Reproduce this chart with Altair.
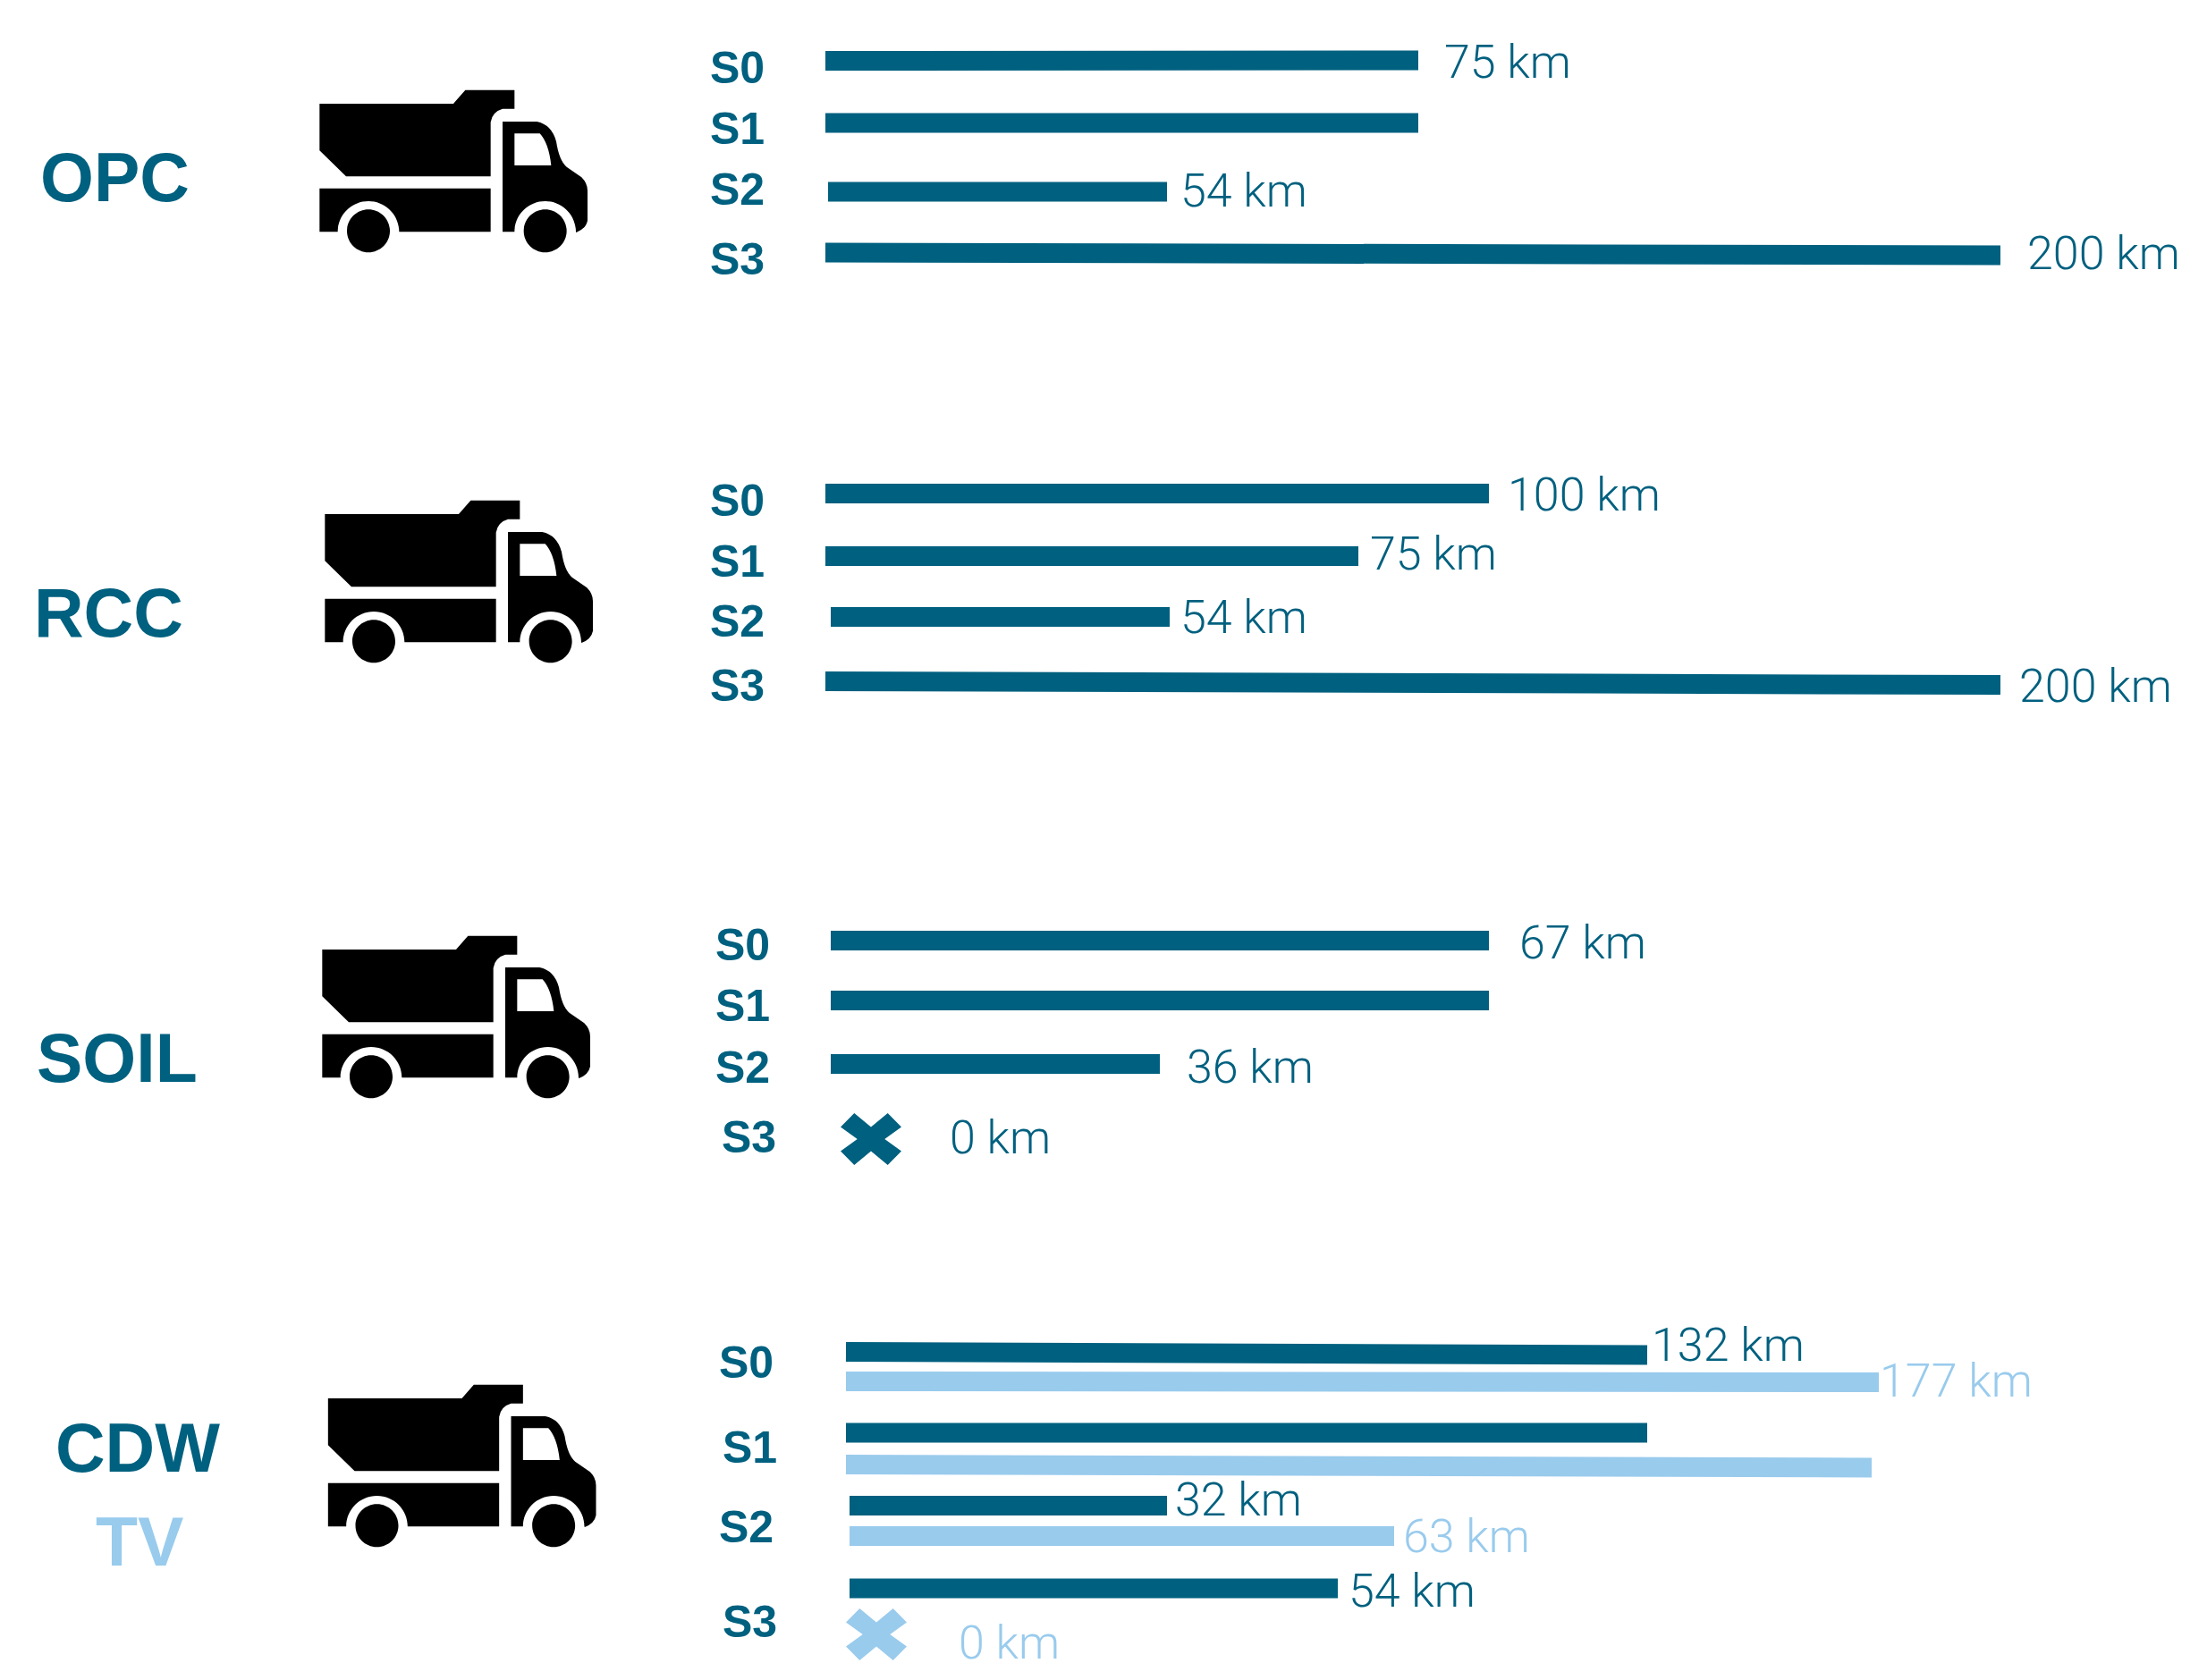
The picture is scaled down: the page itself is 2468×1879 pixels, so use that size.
import altair as alt
import pandas as pd

DARK = "#00607F"
LIGHT = "#99CBED"

# ---- values -----------------------------------------------------------
series = ["dark"] * 4 + ["dark"] * 4 + ["dark"] * 3 + ["dark", "light", "dark", "light", "dark", "light", "dark"]
bar_start = [923, 923, 926, 923, 923, 923, 929, 923, 929, 929, 929,
             946, 946, 946, 946, 950, 950, 950]
bar_end = [1586, 1586, 1305, 2237, 1665, 1519, 1308, 2237, 1665, 1665, 1297,
           1842, 2101, 1842, 2093, 1305, 1559, 1496]
bar_y_left = [68, 137.5, 214.5, 282.5, 552, 622, 690, 762, 1052, 1119, 1190,
              1512, 1545, 1602.5, 1638, 1684, 1718, 1776.5]
bar_y_right = [67.5, 137.5, 214.5, 285.5, 552, 622, 690, 766, 1052, 1119, 1190,
               1515.5, 1546, 1602.5, 1641.5, 1684, 1718, 1776.5]

km_labels = ["75 km", "54 km", "200 km", "100 km", "75 km", "54 km", "200 km",
             "67 km", "36 km", "0 km", "132 km", "177 km", "32 km", "63 km", "54 km", "0 km"]
km_series = ["dark"] * 10 + ["dark", "light", "dark", "light", "dark", "light"]
km_x = [1615, 1320, 2267, 1686, 1532, 1320, 2258, 1699, 1327, 1062, 1847, 2102, 1314, 1569, 1508, 1072]
km_y = [71, 215, 285, 555, 621, 692, 769, 1056, 1195, 1274, 1506, 1546, 1679, 1720, 1781, 1839]

s_labels = ["S0", "S1", "S2", "S3"] * 4
s_x = [794] * 4 + [794] * 4 + [800, 800, 800, 807] + [804, 808, 804, 808]
s_y = [77.5, 146, 214, 292, 562, 629.5, 697, 769, 1059, 1127, 1196, 1274, 1525.5, 1621, 1709.5, 1815.5]

group_labels = ["OPC", "RCC", "SOIL", "CDW", "TV"]
group_series = ["dark", "dark", "dark", "dark", "light"]
group_x = [45, 38, 41, 62, 107]
group_y = [202, 689, 1187, 1623, 1728]

truck_x = [507, 513, 510, 516.5]
truck_y = [192, 651, 1138, 1640]

cross_series = ["dark", "light"]
cross_x = [974, 980]
cross_y = [1274, 1828]


# ---- glyphs ------------------------------------------------------------
def _u(x, y):
    return f"{(x - 500) / 450:.4f},{(y - 306) / 450:.4f}"


def _arch(cx, cy, r):
    # over-the-top half circle from the right foot to the left foot
    k = 0.5523 * r
    return (f"L{_u(cx + r, cy)}C{_u(cx + r, cy - k)} {_u(cx + k, cy - r)} {_u(cx, cy - r)}"
            f"C{_u(cx - k, cy - r)} {_u(cx - r, cy - k)} {_u(cx - r, cy)}")


def _disc(cx, cy, r):
    k = 0.5523 * r
    return (f"M{_u(cx + r, cy)}C{_u(cx + r, cy + k)} {_u(cx + k, cy + r)} {_u(cx, cy + r)}"
            f"C{_u(cx - k, cy + r)} {_u(cx - r, cy + k)} {_u(cx - r, cy)}"
            f"C{_u(cx - r, cy - k)} {_u(cx - k, cy - r)} {_u(cx, cy - r)}"
            f"C{_u(cx + k, cy - r)} {_u(cx + r, cy - k)} {_u(cx + r, cy)}Z")


TRUCK = (
    f"M{_u(51, 78)}L{_u(500, 78)}L{_u(540, 32)}L{_u(705, 32)}L{_u(705, 95)}L{_u(665, 95)}"
    f"Q{_u(630, 105)} {_u(625, 140)}L{_u(625, 322)}L{_u(140, 322)}L{_u(51, 235)}Z"
    f"M{_u(51, 362)}L{_u(625, 362)}L{_u(625, 508)}" + _arch(215, 508, 103) + f"L{_u(51, 508)}Z"
    f"M{_u(665, 138)}L{_u(780, 138)}Q{_u(830, 148)} {_u(845, 205)}Q{_u(855, 270)} {_u(880, 290)}"
    f"L{_u(930, 325)}Q{_u(950, 345)} {_u(950, 370)}L{_u(950, 470)}Q{_u(945, 497)} {_u(912, 510)}"
    + _arch(808, 508, 103) + f"L{_u(665, 508)}Z"
    f"M{_u(705, 178)}L{_u(705, 285)}L{_u(828, 285)}Q{_u(820, 210)} {_u(790, 178)}Z"
    + _disc(215, 505, 72) + _disc(808, 505, 72)
)
CROSS = "M-0.55,-0.85L0,-0.4L0.55,-0.85L1,-0.4L0.45,0L1,0.4L0.55,0.85L0,0.4L-0.55,0.85L-1,0.4L-0.45,0L-1,-0.4Z"

# ---- tables ------------------------------------------------------------
bars = pd.DataFrame({"s": series, "x0": bar_start, "x1": bar_end, "y0": bar_y_left, "y1": bar_y_right})
kms = pd.DataFrame({"t": km_labels, "s": km_series, "x": km_x, "y": km_y})
sdf = pd.DataFrame({"t": s_labels, "x": s_x, "y": s_y})
gdf = pd.DataFrame({"t": group_labels, "s": group_series, "x": group_x, "y": group_y})
tdf = pd.DataFrame({"x": truck_x, "y": truck_y})
cdf = pd.DataFrame({"s": cross_series, "x": cross_x, "y": cross_y})

W, H = 2450, 1860
xs = alt.Scale(domain=[8, 8 + W], range=[0, W], nice=False, zero=False)
ys = alt.Scale(domain=[8, 8 + H], range=[0, H], nice=False, zero=False)
X = alt.X("x:Q", scale=xs, axis=None)
Y = alt.Y("y:Q", scale=ys, axis=None)
C = alt.Color("s:N", scale=alt.Scale(domain=["dark", "light"], range=[DARK, LIGHT]), legend=None)

bar_layer = alt.Chart(bars).mark_rule(strokeWidth=22, strokeCap="butt").encode(
    x=alt.X("x0:Q", scale=xs, axis=None), x2="x1:Q",
    y=alt.Y("y0:Q", scale=ys, axis=None), y2="y1:Q",
    color=C,
)
km_layer = alt.Chart(kms).mark_text(
    font="Roboto", fontSize=52, fontWeight=300, align="left", baseline="middle"
).encode(x=X, y=Y, text="t:N", color=C)
s_layer = alt.Chart(sdf).mark_text(
    font="Liberation Sans", fontSize=50, fontWeight="bold", align="left", baseline="middle", color=DARK
).encode(x=X, y=Y, text="t:N")
g_layer = alt.Chart(gdf).mark_text(
    font="Liberation Sans", fontSize=77, fontWeight="bold", align="left", baseline="middle"
).encode(x=X, y=Y, text="t:N", color=C)
truck_layer = alt.Chart(tdf).mark_point(
    shape=TRUCK, filled=True, size=90000, color="black", opacity=1, strokeWidth=0
).encode(x=X, y=Y)
cross_layer = alt.Chart(cdf).mark_point(
    shape=CROSS, filled=True, size=4624, opacity=1, strokeWidth=0
).encode(x=X, y=Y, color=C)

chart = (
    alt.layer(bar_layer, truck_layer, cross_layer, km_layer, s_layer, g_layer)
    .properties(width=W, height=H, padding=0, background="white")
    .configure_view(stroke=None)
)
chart.save("out.html", embed_options={"renderer": "svg", "actions": False})
